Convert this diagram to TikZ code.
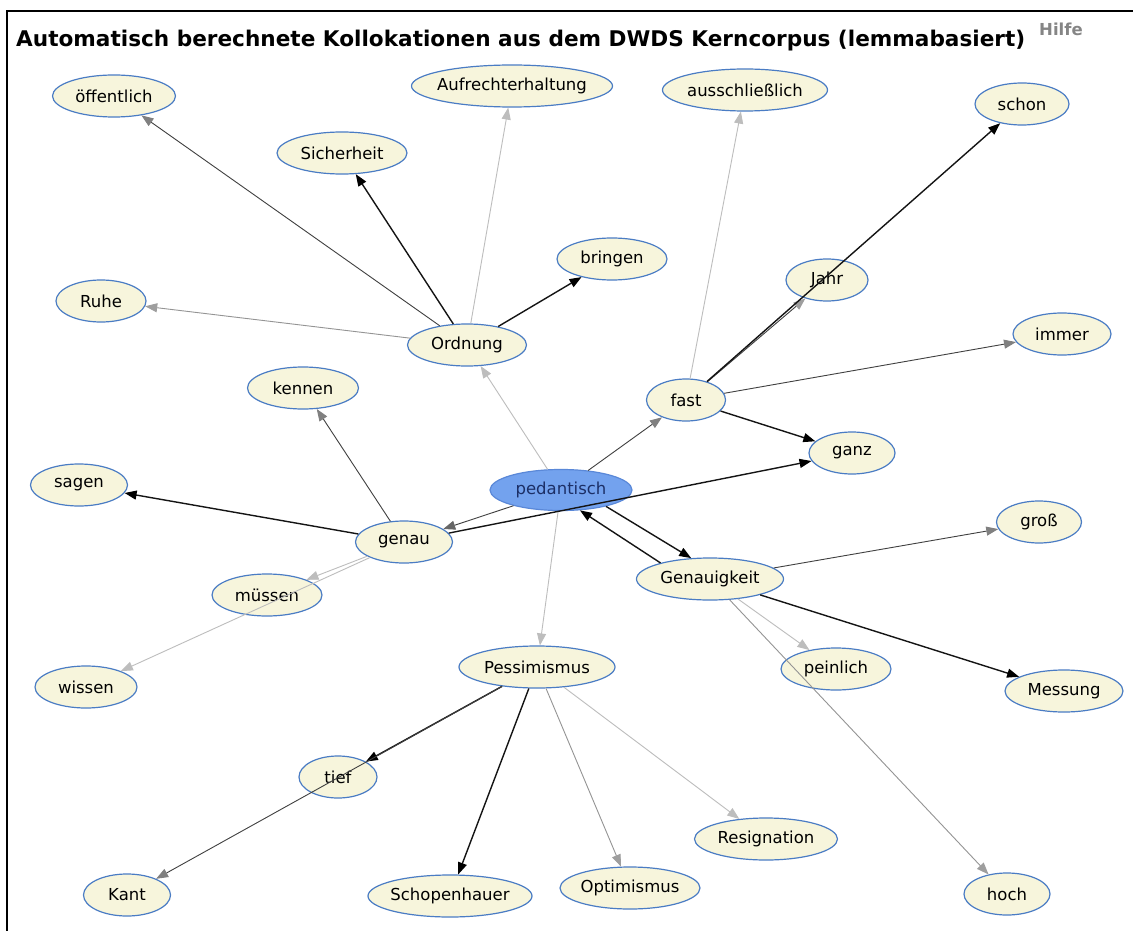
\documentclass[tikz,border=0pt]{standalone}
\usepackage{fontspec}
\setmainfont{DejaVu Sans}
\usetikzlibrary{shapes.geometric,arrows.meta}
\definecolor{cream}{HTML}{F7F5DC}
\definecolor{nodeblue}{HTML}{4A7CC4}
\definecolor{pedfill}{HTML}{73A2EE}
\definecolor{peddraw}{HTML}{5A88D8}
\definecolor{pedtext}{HTML}{1C2F66}
\begin{document}
\begin{tikzpicture}[x=1pt,y=-1pt,
  kw/.style={ellipse, draw=nodeblue, line width=1.2pt, fill=cream,
    minimum height=42pt, inner xsep=-10pt, inner ysep=0pt,
    minimum width=#1, font=\fontsize{16.5}{19}\selectfont},
  tipshape/.style={-{Triangle[length=12pt,width=9pt,color=#1]}},
  blk/.style={draw=black!92, line width=1.4pt, tipshape=black},
  drk/.style={draw=black!75, line width=0.9pt, tipshape=black!50},
  mid/.style={draw=black!42, line width=0.9pt, tipshape=black!38},
  lgt/.style={draw=black!26, line width=0.9pt, tipshape=black!26}]

\useasboundingbox (0,0) rectangle (1133,931);
\fill[white] (0,0) rectangle (1133,931);
\draw[line width=2pt] (7,931) -- (7,11) -- (1133,11);

% heading
\node[anchor=base west, inner sep=0pt, font=\bfseries\fontsize{21.6}{24}\selectfont]
  (title) at (16,47) {Automatisch berechnete Kollokationen aus dem DWDS Kerncorpus (lemmabasiert)};
\node[anchor=base west, inner sep=0pt, text=black!48, font=\bfseries\fontsize{16.5}{18}\selectfont]
  (help) at (1039,36) {Hilfe};

% word nodes
\node[kw=123] (oeff) at (114,96) {öffentlich};
\node[kw=201] (aufr) at (512,86) {Aufrechterhaltung};
\node[kw=165] (aussch) at (745,90) {ausschließlich};
\node[kw=94]  (schon) at (1022,104) {schon};
\node[kw=130] (sich) at (342,153) {Sicherheit};
\node[kw=110] (bring) at (612,259) {bringen};
\node[kw=82]  (jahr) at (827,280) {Jahr};
\node[kw=90]  (ruhe) at (101,301) {Ruhe};
\node[kw=119] (ord) at (467,345) {Ordnung};
\node[kw=98]  (immer) at (1062,334) {immer};
\node[kw=111] (kennen) at (303,388) {kennen};
\node[kw=79]  (fast) at (686,400) {fast};
\node[kw=86]  (ganz) at (852,453) {ganz};
\node[kw=97]  (sagen) at (79,485) {sagen};
\node[kw=97]  (genau) at (404,542) {genau};
\node[kw=85]  (gross) at (1039,522) {groß};
\node[kw=147] (genk) at (710,579) {Genauigkeit};
\node[kw=110] (muessen) at (267,595) {müssen};
\node[kw=156] (pess) at (537,667) {Pessimismus};
\node[kw=110] (pein) at (836,669) {peinlich};
\node[kw=118] (mess) at (1064,691) {Messung};
\node[kw=102] (wissen) at (86,687) {wissen};
\node[kw=78]  (tief) at (338,777) {tief};
\node[kw=143] (resig) at (766,839) {Resignation};
\node[kw=87]  (kant) at (127,895) {Kant};
\node[kw=164] (schop) at (450,896) {Schopenhauer};
\node[kw=140] (opti) at (630,888) {Optimismus};
\node[kw=86]  (hoch) at (1007,894) {hoch};

% central word
\node[kw=142, fill=pedfill, draw=peddraw, text=pedtext, minimum height=41pt]
  (ped) at (561,490) {pedantisch};

% connectors from the central word
\draw[lgt] (ped) -- (ord);
\draw[drk] (ped) -- (fast);
\draw[drk, tipshape=black!60] (ped) -- (genau);
\draw[lgt] (ped) -- (pess);
\draw[blk] (ped.-20) -- (genk.132);
\draw[blk] (genk.162) -- (ped.-47);

% Ordnung
\draw[drk] (ord) -- (oeff);
\draw[blk] (ord) -- (sich);
\draw[lgt] (ord) -- (aufr);
\draw[blk] (ord) -- (bring);
\draw[mid] (ord) -- (ruhe);

% fast
\draw[lgt] (fast) -- (aussch);
\draw[drk, tipshape=black!38] (fast) -- (jahr);
\draw[blk] (fast) -- (schon);
\draw[drk] (fast) -- (immer);
\draw[blk] (fast) -- (ganz);

% genau
\draw[blk] (genau) -- (ganz);
\draw[blk] (genau) -- (sagen);
\draw[drk] (genau) -- (kennen);
\draw[lgt] (genau) -- (muessen);
\draw[lgt] (genau) -- (wissen);

% Genauigkeit
\draw[drk] (genk) -- (gross);
\draw[blk] (genk) -- (mess);
\draw[lgt] (genk) -- (pein);
\draw[mid] (genk) -- (hoch);

% Pessimismus
\draw[blk] (pess) -- (tief);
\draw[drk] (pess) -- (kant);
\draw[blk] (pess) -- (schop);
\draw[mid] (pess) -- (opti);
\draw[lgt] (pess) -- (resig);
\end{tikzpicture}
\end{document}
